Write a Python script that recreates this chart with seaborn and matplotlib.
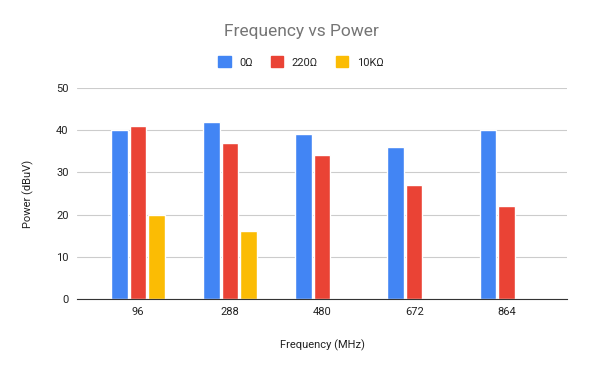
import matplotlib
matplotlib.use("Agg")
import matplotlib.pyplot as plt
import numpy as np
import pandas as pd
import seaborn as sns

# datos
frecuencias = ["96", "288", "480", "672", "864"]
series = ["0Ω", "220Ω", "10KΩ"]
potencia_0 = [40, 42, 39, 36, 40]
potencia_220 = [41, 37, 34, 27, 22]
potencia_10k = [20, 16, np.nan, np.nan, np.nan]
colores = ["#4285F4", "#EA4335", "#FBBC04"]

df = pd.DataFrame({
    "Frecuencia": frecuencias * 3,
    "Serie": [series[0]] * 5 + [series[1]] * 5 + [series[2]] * 5,
    "Potencia": potencia_0 + potencia_220 + potencia_10k,
})

sns.set_style("white")
plt.rcParams["font.family"] = ["Roboto", "DejaVu Sans"]

fig = plt.figure(figsize=(6.02, 3.71), dpi=100)
ax = fig.add_axes([0.128, 0.194, 0.814, 0.569])

sns.barplot(data=df, x="Frecuencia", y="Potencia", hue="Serie", order=frecuencias,
            hue_order=series, palette=colores, width=0.6, gap=0.1, saturation=1,
            legend=False, ax=ax)

ax.set_xlim(-0.66, 4.66)
ax.set_ylim(0, 50)
ax.set_yticks([0, 10, 20, 30, 40, 50])
ax.grid(axis="y", color="#cccccc", linewidth=0.8)
ax.set_axisbelow(True)
for s in ["top", "right", "left"]:
    ax.spines[s].set_visible(False)
ax.spines["bottom"].set_color("#333333")
ax.tick_params(axis="both", length=0, labelsize=8, colors="#222222", pad=6)

ax.set_xlabel("Frequency (MHz)", fontsize=8, color="#222222", labelpad=16)
ax.set_ylabel("Power (dBuV)", fontsize=8, color="#222222", labelpad=16)

fig.text(0.5, 0.916, "Frequency vs Power", ha="center", va="center",
         fontsize=12.5, color="#757575")

# leyenda a mano arriba
handles = [plt.Rectangle((0, 0), 1, 1, color=c) for c in colores]
fig.legend(handles, series, loc="center", bbox_to_anchor=(0.5, 0.833), ncol=3,
           frameon=False, fontsize=8, handlelength=1.1, handleheight=1.1,
           columnspacing=1.6, handletextpad=0.8)

fig.savefig("out.png", dpi=100)
